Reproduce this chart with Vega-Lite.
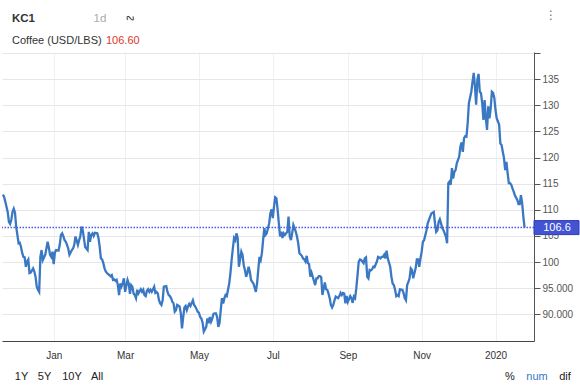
{
  "$schema": "https://vega.github.io/schema/vega-lite/v6.json",
  "width": 532,
  "height": 289,
  "autosize": "none",
  "padding": {"left": 2, "top": 52, "right": 46, "bottom": 48},
  "background": "white",
  "config": {
    "view": {"stroke": null},
    "font": "Liberation Sans",
    "axis": {"labelOverlap": false},
    "axisY": {
      "title": null,
      "grid": true,
      "gridColor": "#e6e6e6",
      "domainColor": "#555555",
      "tickColor": "#555555",
      "tickSize": 6,
      "labelColor": "#555555",
      "labelFontSize": 10,
      "labelPadding": 2,
      "labelBound": false,
      "labelFont": "Liberation Sans"
    }
  },
  "layer": [
    {
      "data": {
        "values": [
          {"date": "2018-324", "price": 112.9}, {"date": "2018-325", "price": 112.5}, {"date": "2018-326", "price": 111.6},
          {"date": "2018-327", "price": 110.6}, {"date": "2018-328", "price": 109.6}, {"date": "2018-329", "price": 107.7},
          {"date": "2018-330", "price": 107.3}, {"date": "2018-331", "price": 108.1}, {"date": "2018-332", "price": 109.6},
          {"date": "2018-333", "price": 110.2}, {"date": "2018-334", "price": 109.5}, {"date": "2018-335", "price": 106.8},
          {"date": "2018-337", "price": 103.6}, {"date": "2018-338", "price": 103.7}, {"date": "2018-339", "price": 102.9},
          {"date": "2018-340", "price": 101.7}, {"date": "2018-341", "price": 101.0}, {"date": "2018-342", "price": 100.9},
          {"date": "2018-343", "price": 99.1}, {"date": "2018-344", "price": 100.1}, {"date": "2018-345", "price": 100.5},
          {"date": "2018-346", "price": 97.9}, {"date": "2018-347", "price": 98.0}, {"date": "2018-349", "price": 98.8},
          {"date": "2018-350", "price": 98.2}, {"date": "2018-351", "price": 97.2}, {"date": "2018-352", "price": 95.3},
          {"date": "2018-353", "price": 94.7}, {"date": "2018-354", "price": 94.3}, {"date": "2018-355", "price": 101.0},
          {"date": "2018-356", "price": 102.3}, {"date": "2018-357", "price": 100.4}, {"date": "2018-359", "price": 101.4},
          {"date": "2018-360", "price": 102.6}, {"date": "2018-361", "price": 103.9}, {"date": "2018-362", "price": 102.8},
          {"date": "2018-363", "price": 101.4}, {"date": "2018-364", "price": 101.0}, {"date": "2018-365", "price": 102.0},
          {"date": "2019-001", "price": 99.6}, {"date": "2019-002", "price": 101.8}, {"date": "2019-003", "price": 102.3},
          {"date": "2019-005", "price": 102.2}, {"date": "2019-006", "price": 103.3}, {"date": "2019-007", "price": 105.2},
          {"date": "2019-008", "price": 105.5}, {"date": "2019-009", "price": 104.9}, {"date": "2019-010", "price": 104.2},
          {"date": "2019-011", "price": 103.9}, {"date": "2019-012", "price": 103.3}, {"date": "2019-013", "price": 102.6},
          {"date": "2019-014", "price": 101.4}, {"date": "2019-016", "price": 102.3}, {"date": "2019-017", "price": 102.6},
          {"date": "2019-018", "price": 103.3}, {"date": "2019-019", "price": 104.9}, {"date": "2019-020", "price": 104.1},
          {"date": "2019-021", "price": 103.3}, {"date": "2019-022", "price": 104.2}, {"date": "2019-023", "price": 104.9},
          {"date": "2019-024", "price": 106.8}, {"date": "2019-025", "price": 106.1}, {"date": "2019-027", "price": 102.9},
          {"date": "2019-028", "price": 102.6}, {"date": "2019-029", "price": 102.3}, {"date": "2019-030", "price": 105.8},
          {"date": "2019-031", "price": 103.9}, {"date": "2019-032", "price": 105.2}, {"date": "2019-033", "price": 105.5},
          {"date": "2019-034", "price": 105.0}, {"date": "2019-035", "price": 105.6}, {"date": "2019-037", "price": 105.5},
          {"date": "2019-038", "price": 104.6}, {"date": "2019-039", "price": 102.9}, {"date": "2019-040", "price": 100.7},
          {"date": "2019-041", "price": 100.5}, {"date": "2019-042", "price": 99.8}, {"date": "2019-043", "price": 98.8},
          {"date": "2019-044", "price": 98.2}, {"date": "2019-045", "price": 97.9}, {"date": "2019-046", "price": 97.7},
          {"date": "2019-048", "price": 97.3}, {"date": "2019-049", "price": 97.5}, {"date": "2019-050", "price": 96.6},
          {"date": "2019-051", "price": 96.7}, {"date": "2019-052", "price": 96.4}, {"date": "2019-053", "price": 96.6},
          {"date": "2019-054", "price": 95.6}, {"date": "2019-055", "price": 93.7}, {"date": "2019-056", "price": 95.9},
          {"date": "2019-057", "price": 95.3}, {"date": "2019-058", "price": 95.9}, {"date": "2019-059", "price": 96.9},
          {"date": "2019-060", "price": 94.3}, {"date": "2019-062", "price": 96.6}, {"date": "2019-063", "price": 95.9},
          {"date": "2019-064", "price": 93.9}, {"date": "2019-065", "price": 95.6}, {"date": "2019-066", "price": 95.3},
          {"date": "2019-067", "price": 94.0}, {"date": "2019-068", "price": 93.7}, {"date": "2019-069", "price": 93.1},
          {"date": "2019-070", "price": 94.7}, {"date": "2019-071", "price": 94.0}, {"date": "2019-073", "price": 94.8},
          {"date": "2019-074", "price": 94.3}, {"date": "2019-075", "price": 94.7}, {"date": "2019-076", "price": 93.7},
          {"date": "2019-077", "price": 93.5}, {"date": "2019-078", "price": 94.5}, {"date": "2019-079", "price": 94.8},
          {"date": "2019-080", "price": 94.3}, {"date": "2019-081", "price": 94.7}, {"date": "2019-082", "price": 94.3},
          {"date": "2019-084", "price": 95.3}, {"date": "2019-085", "price": 94.1}, {"date": "2019-086", "price": 94.3},
          {"date": "2019-087", "price": 94.0}, {"date": "2019-088", "price": 92.7}, {"date": "2019-089", "price": 92.1},
          {"date": "2019-090", "price": 91.8}, {"date": "2019-091", "price": 92.7}, {"date": "2019-092", "price": 95.3},
          {"date": "2019-094", "price": 95.4}, {"date": "2019-095", "price": 94.3}, {"date": "2019-096", "price": 93.7},
          {"date": "2019-097", "price": 93.5}, {"date": "2019-098", "price": 93.1}, {"date": "2019-099", "price": 92.4},
          {"date": "2019-100", "price": 92.1}, {"date": "2019-101", "price": 90.5}, {"date": "2019-102", "price": 90.8},
          {"date": "2019-103", "price": 91.8}, {"date": "2019-105", "price": 91.5}, {"date": "2019-106", "price": 90.2},
          {"date": "2019-107", "price": 87.3}, {"date": "2019-108", "price": 89.5}, {"date": "2019-109", "price": 91.3},
          {"date": "2019-110", "price": 91.6}, {"date": "2019-111", "price": 90.8}, {"date": "2019-112", "price": 91.5},
          {"date": "2019-113", "price": 92.0}, {"date": "2019-114", "price": 91.6}, {"date": "2019-116", "price": 92.7},
          {"date": "2019-117", "price": 91.8}, {"date": "2019-118", "price": 91.5}, {"date": "2019-119", "price": 91.0},
          {"date": "2019-120", "price": 90.5}, {"date": "2019-121", "price": 90.3}, {"date": "2019-122", "price": 89.5},
          {"date": "2019-123", "price": 89.2}, {"date": "2019-124", "price": 88.4}, {"date": "2019-125", "price": 86.7},
          {"date": "2019-127", "price": 87.6}, {"date": "2019-128", "price": 89.2}, {"date": "2019-129", "price": 88.3},
          {"date": "2019-130", "price": 89.5}, {"date": "2019-131", "price": 88.6}, {"date": "2019-132", "price": 89.2},
          {"date": "2019-133", "price": 90.1}, {"date": "2019-134", "price": 90.2}, {"date": "2019-135", "price": 90.2},
          {"date": "2019-136", "price": 89.5}, {"date": "2019-137", "price": 87.6}, {"date": "2019-138", "price": 88.3},
          {"date": "2019-139", "price": 90.8}, {"date": "2019-140", "price": 93.1}, {"date": "2019-141", "price": 92.1},
          {"date": "2019-142", "price": 93.1}, {"date": "2019-143", "price": 93.7}, {"date": "2019-144", "price": 93.5},
          {"date": "2019-146", "price": 95.9}, {"date": "2019-147", "price": 97.9}, {"date": "2019-148", "price": 100.4},
          {"date": "2019-149", "price": 102.6}, {"date": "2019-150", "price": 104.6}, {"date": "2019-151", "price": 104.2},
          {"date": "2019-152", "price": 105.5}, {"date": "2019-153", "price": 104.6}, {"date": "2019-154", "price": 99.1},
          {"date": "2019-156", "price": 102.0}, {"date": "2019-157", "price": 101.4}, {"date": "2019-158", "price": 99.4},
          {"date": "2019-159", "price": 98.5}, {"date": "2019-160", "price": 97.2}, {"date": "2019-161", "price": 97.9},
          {"date": "2019-162", "price": 99.1}, {"date": "2019-163", "price": 98.2}, {"date": "2019-164", "price": 96.6},
          {"date": "2019-165", "price": 96.2}, {"date": "2019-166", "price": 95.9}, {"date": "2019-168", "price": 94.3},
          {"date": "2019-169", "price": 95.9}, {"date": "2019-170", "price": 98.5}, {"date": "2019-171", "price": 101.0},
          {"date": "2019-172", "price": 100.4}, {"date": "2019-173", "price": 101.7}, {"date": "2019-174", "price": 104.2},
          {"date": "2019-175", "price": 106.5}, {"date": "2019-176", "price": 105.2}, {"date": "2019-177", "price": 105.5},
          {"date": "2019-179", "price": 107.4}, {"date": "2019-180", "price": 109.3}, {"date": "2019-181", "price": 110.1},
          {"date": "2019-182", "price": 108.4}, {"date": "2019-183", "price": 110.6}, {"date": "2019-184", "price": 112.4},
          {"date": "2019-185", "price": 112.2}, {"date": "2019-186", "price": 110.0}, {"date": "2019-187", "price": 107.4},
          {"date": "2019-188", "price": 104.9}, {"date": "2019-189", "price": 105.8}, {"date": "2019-190", "price": 104.6},
          {"date": "2019-191", "price": 105.5}, {"date": "2019-192", "price": 105.2}, {"date": "2019-194", "price": 105.8},
          {"date": "2019-195", "price": 108.7}, {"date": "2019-196", "price": 104.9}, {"date": "2019-197", "price": 104.2},
          {"date": "2019-198", "price": 105.5}, {"date": "2019-199", "price": 107.1}, {"date": "2019-200", "price": 106.5},
          {"date": "2019-201", "price": 105.8}, {"date": "2019-202", "price": 104.9}, {"date": "2019-203", "price": 103.6},
          {"date": "2019-204", "price": 101.7}, {"date": "2019-206", "price": 101.2}, {"date": "2019-207", "price": 100.7},
          {"date": "2019-208", "price": 100.5}, {"date": "2019-209", "price": 100.1}, {"date": "2019-210", "price": 101.2},
          {"date": "2019-211", "price": 99.8}, {"date": "2019-212", "price": 99.6}, {"date": "2019-213", "price": 97.2},
          {"date": "2019-214", "price": 98.0}, {"date": "2019-215", "price": 97.2}, {"date": "2019-217", "price": 95.6},
          {"date": "2019-218", "price": 96.9}, {"date": "2019-219", "price": 96.9}, {"date": "2019-220", "price": 97.3},
          {"date": "2019-221", "price": 97.3}, {"date": "2019-222", "price": 97.1}, {"date": "2019-223", "price": 93.7},
          {"date": "2019-225", "price": 96.1}, {"date": "2019-226", "price": 94.8}, {"date": "2019-227", "price": 94.7},
          {"date": "2019-228", "price": 94.0}, {"date": "2019-229", "price": 93.1}, {"date": "2019-230", "price": 91.8},
          {"date": "2019-231", "price": 91.3}, {"date": "2019-232", "price": 91.8}, {"date": "2019-233", "price": 92.7},
          {"date": "2019-234", "price": 93.4}, {"date": "2019-236", "price": 93.1}, {"date": "2019-237", "price": 93.5},
          {"date": "2019-238", "price": 94.1}, {"date": "2019-239", "price": 93.7}, {"date": "2019-240", "price": 94.1},
          {"date": "2019-241", "price": 94.0}, {"date": "2019-242", "price": 92.1}, {"date": "2019-243", "price": 93.5},
          {"date": "2019-244", "price": 92.4}, {"date": "2019-246", "price": 93.5}, {"date": "2019-247", "price": 93.1},
          {"date": "2019-248", "price": 92.2}, {"date": "2019-249", "price": 93.4}, {"date": "2019-250", "price": 93.1},
          {"date": "2019-251", "price": 95.0}, {"date": "2019-252", "price": 97.5}, {"date": "2019-253", "price": 100.1},
          {"date": "2019-254", "price": 100.5}, {"date": "2019-255", "price": 100.4}, {"date": "2019-257", "price": 99.8},
          {"date": "2019-258", "price": 100.7}, {"date": "2019-259", "price": 100.9}, {"date": "2019-260", "price": 97.2},
          {"date": "2019-261", "price": 96.9}, {"date": "2019-262", "price": 98.5}, {"date": "2019-263", "price": 98.4},
          {"date": "2019-264", "price": 98.6}, {"date": "2019-265", "price": 99.1}, {"date": "2019-266", "price": 99.0},
          {"date": "2019-268", "price": 100.1}, {"date": "2019-269", "price": 101.0}, {"date": "2019-270", "price": 100.9},
          {"date": "2019-271", "price": 100.7}, {"date": "2019-272", "price": 101.0}, {"date": "2019-273", "price": 101.0},
          {"date": "2019-274", "price": 101.4}, {"date": "2019-275", "price": 100.7}, {"date": "2019-276", "price": 102.2},
          {"date": "2019-277", "price": 100.7}, {"date": "2019-279", "price": 99.1}, {"date": "2019-280", "price": 97.2},
          {"date": "2019-281", "price": 95.9}, {"date": "2019-282", "price": 95.6}, {"date": "2019-283", "price": 94.7},
          {"date": "2019-284", "price": 93.5}, {"date": "2019-285", "price": 93.7}, {"date": "2019-286", "price": 93.5},
          {"date": "2019-287", "price": 94.8}, {"date": "2019-289", "price": 94.7}, {"date": "2019-290", "price": 94.1},
          {"date": "2019-291", "price": 93.1}, {"date": "2019-292", "price": 92.7}, {"date": "2019-293", "price": 95.6},
          {"date": "2019-294", "price": 96.2}, {"date": "2019-295", "price": 96.9}, {"date": "2019-296", "price": 98.8},
          {"date": "2019-297", "price": 98.5}, {"date": "2019-298", "price": 96.9}, {"date": "2019-300", "price": 98.8},
          {"date": "2019-301", "price": 100.5}, {"date": "2019-302", "price": 100.5}, {"date": "2019-303", "price": 99.1},
          {"date": "2019-304", "price": 100.7}, {"date": "2019-305", "price": 102.0}, {"date": "2019-306", "price": 103.9},
          {"date": "2019-307", "price": 104.2}, {"date": "2019-309", "price": 106.1}, {"date": "2019-310", "price": 107.4},
          {"date": "2019-312", "price": 108.7}, {"date": "2019-313", "price": 109.3}, {"date": "2019-315", "price": 109.6},
          {"date": "2019-316", "price": 107.4}, {"date": "2019-317", "price": 105.8}, {"date": "2019-318", "price": 106.1},
          {"date": "2019-319", "price": 107.7}, {"date": "2019-320", "price": 108.2}, {"date": "2019-321", "price": 107.4},
          {"date": "2019-322", "price": 106.5}, {"date": "2019-323", "price": 106.1}, {"date": "2019-325", "price": 104.9},
          {"date": "2019-326", "price": 103.6}, {"date": "2019-327", "price": 115.1}, {"date": "2019-328", "price": 115.4},
          {"date": "2019-329", "price": 114.8}, {"date": "2019-330", "price": 118.0}, {"date": "2019-331", "price": 116.0},
          {"date": "2019-332", "price": 117.3}, {"date": "2019-333", "price": 117.6}, {"date": "2019-334", "price": 118.9},
          {"date": "2019-336", "price": 120.2}, {"date": "2019-337", "price": 122.1}, {"date": "2019-338", "price": 122.9},
          {"date": "2019-339", "price": 121.1}, {"date": "2019-340", "price": 123.7}, {"date": "2019-341", "price": 124.1},
          {"date": "2019-342", "price": 124.0}, {"date": "2019-343", "price": 126.6}, {"date": "2019-344", "price": 130.4},
          {"date": "2019-346", "price": 132.6}, {"date": "2019-347", "price": 134.5}, {"date": "2019-348", "price": 136.2},
          {"date": "2019-349", "price": 133.6}, {"date": "2019-350", "price": 130.1}, {"date": "2019-351", "price": 134.9},
          {"date": "2019-352", "price": 136.0}, {"date": "2019-353", "price": 132.6}, {"date": "2019-354", "price": 132.3},
          {"date": "2019-355", "price": 130.4}, {"date": "2019-356", "price": 127.2}, {"date": "2019-357", "price": 131.0},
          {"date": "2019-358", "price": 127.5}, {"date": "2019-359", "price": 125.3}, {"date": "2019-360", "price": 129.8},
          {"date": "2019-361", "price": 127.5}, {"date": "2019-362", "price": 129.4}, {"date": "2019-363", "price": 132.6},
          {"date": "2019-364", "price": 132.4}, {"date": "2019-365", "price": 131.4}, {"date": "2020-001", "price": 129.1},
          {"date": "2020-002", "price": 127.5}, {"date": "2020-003", "price": 126.9}, {"date": "2020-004", "price": 126.3},
          {"date": "2020-005", "price": 122.7}, {"date": "2020-006", "price": 122.4}, {"date": "2020-007", "price": 121.1},
          {"date": "2020-008", "price": 119.9}, {"date": "2020-009", "price": 117.6}, {"date": "2020-010", "price": 119.2},
          {"date": "2020-011", "price": 117.0}, {"date": "2020-012", "price": 115.1}, {"date": "2020-013", "price": 115.1},
          {"date": "2020-014", "price": 114.8}, {"date": "2020-015", "price": 114.1}, {"date": "2020-016", "price": 113.5},
          {"date": "2020-017", "price": 112.8}, {"date": "2020-019", "price": 111.9}, {"date": "2020-020", "price": 111.1},
          {"date": "2020-021", "price": 111.1}, {"date": "2020-022", "price": 112.8}, {"date": "2020-023", "price": 111.3},
          {"date": "2020-024", "price": 108.7}, {"date": "2020-025", "price": 106.6}
        ],
        "format": {"parse": {"date": "date:'%Y-%j'"}}
      },
      "mark": {"type": "line", "color": "#3a78c3", "strokeWidth": 2.3},
      "encoding": {
        "x": {
          "field": "date",
          "type": "temporal",
          "scale": {"domain": [{"year": 2018, "month": 11, "date": 19, "hours": 7}, {"year": 2020, "month": 2, "date": 1, "hours": 19}]},
          "axis": {
            "title": null,
            "values": [
              {"year": 2019, "month": 1, "date": 1}, {"year": 2019, "month": 3, "date": 1}, {"year": 2019, "month": 5, "date": 1},
              {"year": 2019, "month": 7, "date": 1}, {"year": 2019, "month": 9, "date": 1}, {"year": 2019, "month": 11, "date": 1},
              {"year": 2020, "month": 1, "date": 1}
            ],
            "labelExpr": "year(datum.value) == 2020 ? '2020' : timeFormat(datum.value, '%b')",
            "grid": true,
            "gridColor": "#edf1f6",
            "domainColor": "#444444",
            "ticks": false,
            "labelColor": "#333333",
            "labelFontSize": 10,
            "labelPadding": 9,
            "labelFont": "Liberation Sans"
          }
        },
        "y": {
          "field": "price",
          "type": "quantitative",
          "scale": {"domain": [84.9, 140.2], "nice": false, "zero": false},
          "axis": {
            "orient": "right",
            "values": [90, 95, 100, 105, 110, 115, 120, 125, 130, 135, 140],
            "labelExpr": "datum.value >= 140 ? '' : (datum.value < 100 ? format(datum.value, '.3f') : format(datum.value, 'd'))"
          }
        }
      }
    },
    {
      "data": {"values": [{}]},
      "mark": {"type": "rule", "color": "#4b5de8", "strokeWidth": 1.5, "strokeDash": [1.5, 1.5]},
      "encoding": {
        "y": {
          "datum": 106.6,
          "type": "quantitative",
          "axis": {
            "orient": "right",
            "values": [90, 95, 100, 105, 110, 115, 120, 125, 130, 135, 140],
            "labelExpr": "datum.value >= 140 ? '' : (datum.value < 100 ? format(datum.value, '.3f') : format(datum.value, 'd'))"
          }
        }
      }
    },
    {
      "data": {"values": [{}]},
      "mark": {"type": "rect", "color": "#4254d4", "stroke": "#2f3db3", "strokeWidth": 1, "yOffset": -7, "y2Offset": 7},
      "encoding": {
        "x": {"value": 532},
        "x2": {"value": 577},
        "y": {
          "datum": 106.6,
          "type": "quantitative",
          "axis": {
            "orient": "right",
            "values": [90, 95, 100, 105, 110, 115, 120, 125, 130, 135, 140],
            "labelExpr": "datum.value >= 140 ? '' : (datum.value < 100 ? format(datum.value, '.3f') : format(datum.value, 'd'))"
          }
        },
        "y2": {"datum": 106.6}
      }
    },
    {
      "data": {"values": [{}]},
      "mark": {"type": "text", "color": "white", "fontSize": 11, "align": "center", "baseline": "middle", "font": "Liberation Sans"},
      "encoding": {
        "x": {"value": 555},
        "y": {
          "datum": 106.6,
          "type": "quantitative",
          "axis": {
            "orient": "right",
            "values": [90, 95, 100, 105, 110, 115, 120, 125, 130, 135, 140],
            "labelExpr": "datum.value >= 140 ? '' : (datum.value < 100 ? format(datum.value, '.3f') : format(datum.value, 'd'))"
          }
        },
        "text": {"value": "106.6"}
      }
    },
    {
      "data": {"values": [{}]},
      "mark": {"type": "text", "text": "KC1", "x": 10, "y": -33, "color": "#333333", "fontSize": 11.5, "fontWeight": "bold", "align": "left", "baseline": "middle"},
      "encoding": {}
    },
    {
      "data": {"values": [{}]},
      "mark": {"type": "text", "text": "Coffee (USD/LBS)", "x": 10, "y": -11, "color": "#333333", "fontSize": 11, "align": "left", "baseline": "middle"},
      "encoding": {}
    },
    {
      "data": {"values": [{}]},
      "mark": {"type": "text", "text": "106.60", "x": 104, "y": -11, "color": "#e0342c", "fontSize": 11, "align": "left", "baseline": "middle"},
      "encoding": {}
    },
    {
      "data": {"values": [{}]},
      "mark": {"type": "text", "text": "1d", "x": 98, "y": -33, "color": "#aaaaaa", "fontSize": 11.5, "align": "center", "baseline": "middle"},
      "encoding": {}
    },
    {
      "data": {"values": [{}]},
      "mark": {"type": "text", "text": "∿", "x": 128, "y": -34, "color": "#333333", "fontSize": 12, "font": "DejaVu Sans", "angle": 335, "align": "center", "baseline": "middle"},
      "encoding": {}
    },
    {
      "data": {"values": [{}]},
      "mark": {"type": "text", "text": "⋮", "x": 549, "y": -37, "color": "#777777", "fontSize": 12, "font": "DejaVu Sans", "align": "center", "baseline": "middle"},
      "encoding": {}
    },
    {
      "data": {"values": [{}]},
      "mark": {"type": "text", "text": "1Y", "x": 19.5, "y": 325, "color": "#222222", "fontSize": 11, "align": "center", "baseline": "middle"},
      "encoding": {}
    },
    {
      "data": {"values": [{}]},
      "mark": {"type": "text", "text": "5Y", "x": 42.5, "y": 325, "color": "#222222", "fontSize": 11, "align": "center", "baseline": "middle"},
      "encoding": {}
    },
    {
      "data": {"values": [{}]},
      "mark": {"type": "text", "text": "10Y", "x": 70, "y": 325, "color": "#222222", "fontSize": 11, "align": "center", "baseline": "middle"},
      "encoding": {}
    },
    {
      "data": {"values": [{}]},
      "mark": {"type": "text", "text": "All", "x": 95, "y": 325, "color": "#222222", "fontSize": 11, "align": "center", "baseline": "middle"},
      "encoding": {}
    },
    {
      "data": {"values": [{}]},
      "mark": {"type": "text", "text": "%", "x": 508, "y": 325, "color": "#222222", "fontSize": 11, "align": "center", "baseline": "middle"},
      "encoding": {}
    },
    {
      "data": {"values": [{}]},
      "mark": {"type": "text", "text": "num", "x": 535, "y": 325, "color": "#3a78c3", "fontSize": 11, "align": "center", "baseline": "middle"},
      "encoding": {}
    },
    {
      "data": {"values": [{}]},
      "mark": {"type": "text", "text": "dif", "x": 563, "y": 325, "color": "#222222", "fontSize": 11, "align": "center", "baseline": "middle"},
      "encoding": {}
    }
  ]
}
